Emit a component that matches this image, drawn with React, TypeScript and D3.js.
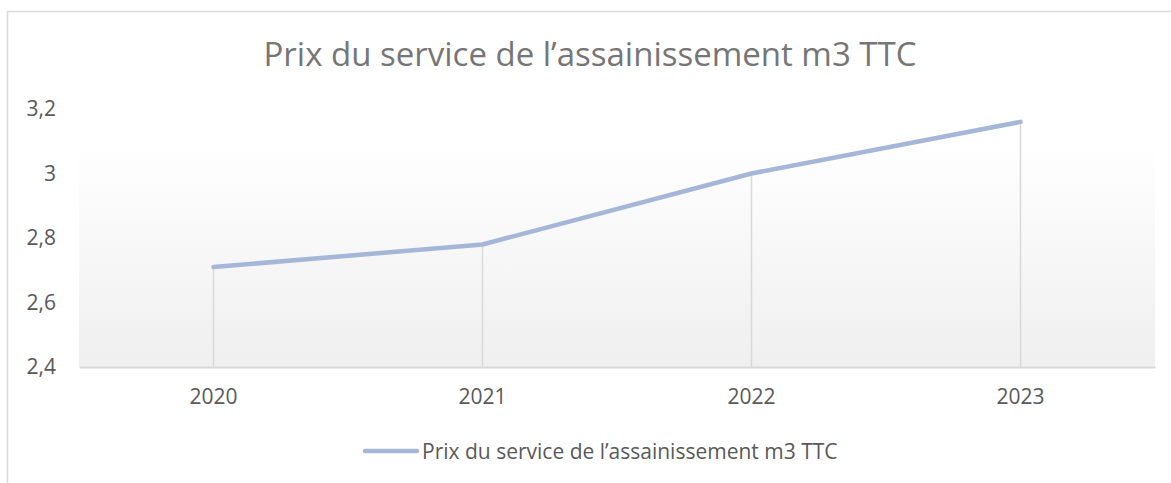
import * as d3 from "d3";
import React, { useEffect, useRef } from "react";

const years = ["2020", "2021", "2022", "2023"];
const prices = [2.71, 2.78, 3.0, 3.16];
const yTicks = [2.4, 2.6, 2.8, 3.0, 3.2];
const title = "Prix du service de l\u2019assainissement m3 TTC";

function App() {
  const ref = useRef<SVGSVGElement>(null);

  useEffect(() => {
    const width = 1171;
    const height = 483;
    const margin = { top: 109, left: 79, bottom: 116, right: 16 };
    const iwidth = width - margin.left - margin.right;
    const iheight = height - margin.top - margin.bottom;
    const font = "'Open Sans', sans-serif";

    const svg = d3.select(ref.current);
    svg.selectAll("*").remove();

    // chart frame (right and bottom edges are cut off)
    svg.append("rect")
      .attr("x", 7.5).attr("y", 11.5)
      .attr("width", width + 20).attr("height", height + 20)
      .attr("fill", "white").attr("stroke", "#d9d9d9").attr("stroke-width", 1.5);

    const defs = svg.append("defs");
    const grad = defs.append("linearGradient")
      .attr("id", "plotbg").attr("x1", 0).attr("y1", 0).attr("x2", 0).attr("y2", 1);
    grad.append("stop").attr("offset", "0%").attr("stop-color", "#ffffff");
    grad.append("stop").attr("offset", "100%").attr("stop-color", "#efefef");

    svg.append("text")
      .attr("x", 590).attr("y", 66)
      .attr("text-anchor", "middle")
      .attr("font-family", font).attr("font-size", 33)
      .attr("fill", "#767676")
      .text(title);

    const g = svg.append("g").attr("transform", `translate(${margin.left}, ${margin.top})`);

    const x = d3.scaleBand().domain(years).range([0, iwidth]);
    const y = d3.scaleLinear().domain([2.4, 3.2]).range([iheight, 0]);
    const cx = (d: string) => (x(d) as number) + x.bandwidth() / 2;

    g.append("rect")
      .attr("x", 0).attr("y", 34)
      .attr("width", iwidth).attr("height", iheight - 34)
      .attr("fill", "url(#plotbg)");

    // drop lines
    g.selectAll("line.drop").data(years).enter().append("line")
      .attr("class", "drop")
      .attr("x1", d => cx(d)).attr("x2", d => cx(d))
      .attr("y1", (d, i) => y(prices[i])).attr("y2", y(2.4))
      .attr("stroke", "#d9d9d9").attr("stroke-width", 1.5);

    const xAxis = g.append("g")
      .attr("transform", `translate(0, ${iheight})`)
      .call(d3.axisBottom(x).tickSize(0).tickPadding(22));
    xAxis.select(".domain").attr("stroke", "#d9d9d9").attr("stroke-width", 2);
    xAxis.selectAll("text").attr("font-family", font).attr("font-size", 21).attr("fill", "#595959");

    const fmt = (v: number) => d3.format("~g")(v).replace(".", ",");
    const yAxis = g.append("g")
      .call(d3.axisLeft(y).tickValues(yTicks).tickFormat(d => fmt(+d)).tickSize(0).tickPadding(23));
    yAxis.select(".domain").remove();
    yAxis.selectAll("text").attr("font-family", font).attr("font-size", 21).attr("fill", "#595959");

    const line = d3.line<number>()
      .x((d, i) => cx(years[i]))
      .y(d => y(d));

    g.append("path")
      .datum(prices)
      .attr("fill", "none")
      .attr("stroke", "#a5b6d8")
      .attr("stroke-width", 4.5)
      .attr("stroke-linecap", "round")
      .attr("stroke-linejoin", "round")
      .attr("d", line);

    // legend
    const lg = svg.append("g").attr("transform", "translate(0, 451)");
    lg.append("line")
      .attr("x1", 365).attr("x2", 417).attr("y1", 0).attr("y2", 0)
      .attr("stroke", "#a5b6d8").attr("stroke-width", 4.5).attr("stroke-linecap", "round");
    lg.append("text")
      .attr("x", 422).attr("y", 7.5)
      .attr("font-family", font).attr("font-size", 21)
      .attr("fill", "#595959")
      .text(title);
  }, []);

  return (
    <svg ref={ref} width={1171} height={483}
      style={{ position: "absolute", left: 0, top: 0, background: "white" }} />
  );
}

export default App;
